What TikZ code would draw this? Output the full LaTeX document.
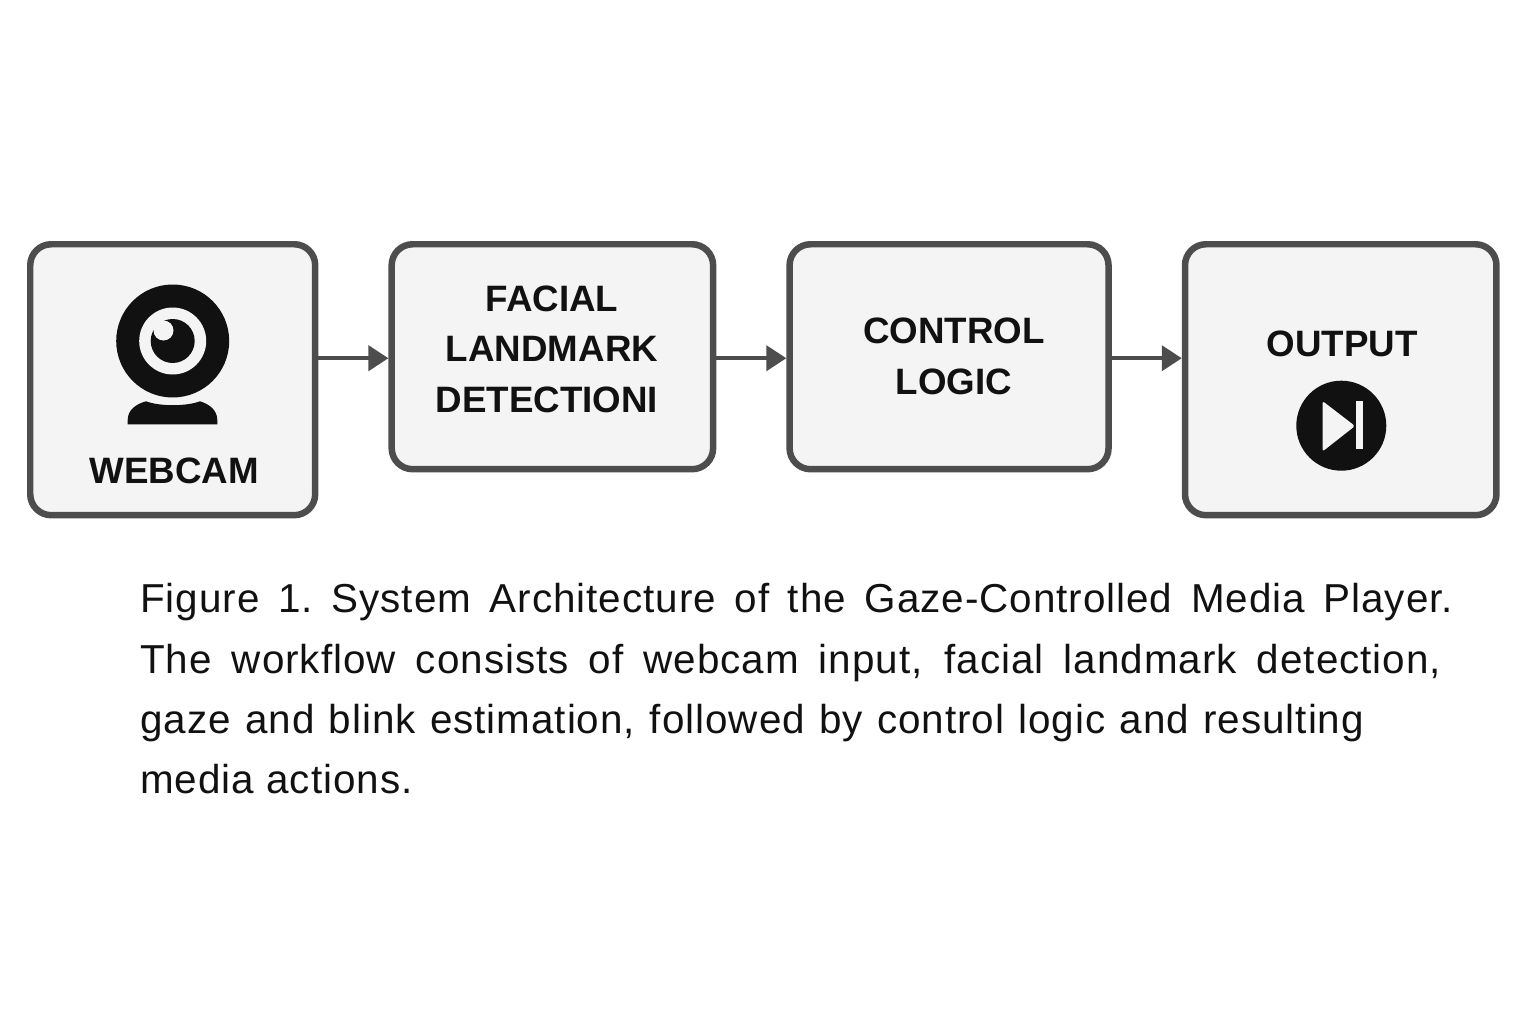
\documentclass[tikz,border=0pt]{standalone}
\usepackage{fontspec}
\setmainfont{Liberation Sans}
\usepackage{xcolor}
\usetikzlibrary{arrows.meta, positioning}
\definecolor{edgegray}{HTML}{4D4D4D}
\definecolor{boxgray}{HTML}{F4F4F4}
\definecolor{inkblack}{HTML}{111111}

\begin{document}
\begin{tikzpicture}[
  x=0.02cm, y=-0.02cm,
  node distance=1.4cm,
  block/.style={rectangle, draw=edgegray, fill=boxgray, line width=0.13cm,
                rounded corners=0.42cm},
  tall/.style={minimum height=5.42cm},
  short/.style={minimum height=4.5cm},
  lbl/.style={align=center, text=inkblack, inner sep=0pt,
              font=\bfseries\fontsize{20.9}{28.8}\selectfont},
  arrow/.style={-{Triangle[length=4mm, width=5mm]}, line width=0.08cm, draw=edgegray,
                fill=edgegray},
  icon/.style={fill=inkblack, draw=none}
]
  \useasboundingbox (0,0) rectangle (1536,1024);
  % boxes
  \node[block, tall, minimum width=5.7cm, anchor=north west] (webcam) at (27,241) {};
  \node[block, short, minimum width=6.43cm, right=of webcam.north east, anchor=north west] (facial) {};
  \node[block, short, minimum width=6.38cm, right=of facial.north east, anchor=north west] (control) {};
  \node[block, tall, minimum width=6.23cm, right=of control.north east, anchor=north west] (output) {};
  % box texts
  \node[lbl] (webcamtext) at (174,471) {WEBCAM};
  \node[lbl] (facialtext) at (552,349) {FACIAL\\LANDMARK\\DETECTIONI\hspace*{0.2cm}};
  \node[lbl] (controltext) at (954,356.5) {CONTROL\\LOGIC};
  \node[lbl] (outputtext) at (1342,343.5) {OUTPUT};
  % webcam icon
  \fill[icon] (172.7,341) circle[radius=56.5];
  \fill[boxgray] (172.7,341) circle[radius=33.5];
  \fill[icon] (172.7,341) circle[radius=22];
  \fill[boxgray] (163.5,330.5) circle[radius=10];
  \fill[icon] (127.7,424.3) -- (127.7,420) .. controls (127.7,410) and (136,404) .. (146,401.3)
    .. controls (160,406.5) and (186,406.5) .. (200,401.3)
    .. controls (209,404) and (217.3,410) .. (217.3,420) -- (217.3,424.3) -- cycle;
  % player icon
  \fill[icon] (1341.3,425.7) circle[radius=45];
  \fill[boxgray, rounded corners=0.05cm] (1322.5,401) -- (1322.5,451.5) -- (1355,426) -- cycle;
  \fill[boxgray] (1355.7,401) rectangle (1363,449);
  % arrows
  \coordinate (facialin) at ([yshift=-0.03cm]facial.west);
  \coordinate (controlin) at ([yshift=-0.03cm]control.west);
  \coordinate (outputin) at (output.west |- controlin);
  \draw[arrow] (webcam.east |- facialin) -- (facialin);
  \draw[arrow] (facial.east |- controlin) -- (controlin);
  \draw[arrow] (control.east |- outputin) -- (outputin);
  % caption
  \node[align=left, inner sep=0pt, anchor=north west, text=inkblack,
        font=\fontsize{23}{34.4}\selectfont\addfontfeatures{LetterSpace=2.4}] (caption) at (140,583) {%
    \makebox[26.26cm][s]{Figure 1.\ System Architecture of the Gaze-Controlled Media Player.}\\
    \makebox[26.02cm][s]{The workflow consists of webcam input, facial landmark detection,}\\
    \makebox[24.48cm][s]{gaze and blink estimation, followed by control logic and resulting}\\
    media actions.};
\end{tikzpicture}
\end{document}
